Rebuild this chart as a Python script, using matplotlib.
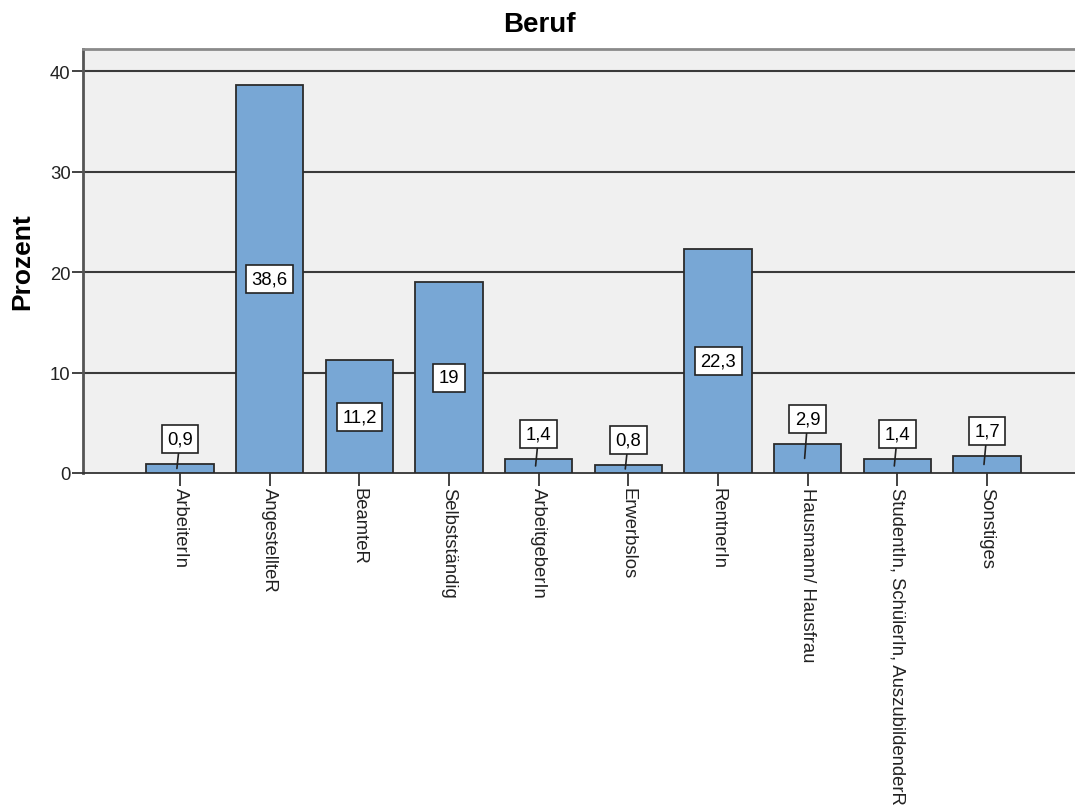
import numpy as np
import matplotlib
matplotlib.use("Agg")
import matplotlib.pyplot as plt

plt.rcParams['font.family'] = ['Liberation Sans', 'DejaVu Sans']

# data
categories = ["ArbeiterIn", "AngestellteR", "BeamteR", "Selbstständig", "ArbeitgeberIn",
              "Erwerbslos", "RentnerIn", "Hausmann/ Hausfrau",
              "StudentIn, SchülerIn, AuszubildenderR", "Sonstiges"]
prozent = [0.9, 38.6, 11.2, 19, 1.4, 0.8, 22.3, 2.9, 1.4, 1.7]
value_labels = ["0,9", "38,6", "11,2", "19", "1,4", "0,8", "22,3", "2,9", "1,4", "1,7"]
yticks = [0, 10, 20, 30, 40]

fig = plt.figure(figsize=(10.75, 8.12), dpi=100)
ax = fig.add_axes([83/1075, 1 - 474/812, 1 - 83/1075, (474 - 50)/812])
ax.set_facecolor("#F0F0F0")

x = np.arange(len(categories))
ax.bar(x, prozent, width=0.75, color="#78A7D5", edgecolor="#2b2b2b", linewidth=1.3, zorder=3)

# grid lines behind the bars
for t in yticks[1:]:
    ax.axhline(t, color="#3a3a3a", linewidth=1.5, zorder=1)

ax.set_xlim(-1.082, 9.98)
ax.set_ylim(0, 42.2)
ax.set_yticks(yticks)
ax.set_xticks(x)
ax.set_xticklabels(categories, rotation=270, ha="center", va="top", fontsize=13.3)
ax.tick_params(axis="y", length=8, width=1.2, pad=1, labelsize=13.3, colors="#222222")
ax.tick_params(axis="x", length=9, width=1.2, pad=1, colors="#222222")

ax.spines["right"].set_visible(False)
ax.spines["top"].set_color("#8a8a8a")
ax.spines["top"].set_linewidth(2)
ax.spines["left"].set_color("#555555")
ax.spines["left"].set_linewidth(2)
ax.spines["bottom"].set_color("#333333")
ax.spines["bottom"].set_linewidth(1.3)

# value labels in boxes
box = dict(boxstyle="square,pad=0.3", fc="white", ec="#222222", lw=1.2)
for i, (v, lab) in enumerate(zip(prozent, value_labels)):
    if v >= 5:
        ax.text(i, v / 2, lab, ha="center", va="center", fontsize=13.3, bbox=box, zorder=5)
    else:
        ax.annotate(lab, xy=(i - 0.035, v / 2), xytext=(i, v + 2.5),
                    ha="center", va="center", fontsize=13.3, bbox=box, zorder=5,
                    arrowprops=dict(arrowstyle="-", color="#222222", lw=1.2,
                                    shrinkA=0, shrinkB=0))

fig.text(539/1075, 1 - 25/812, "Beruf", ha="center", va="center",
         fontsize=20, fontweight="bold")
fig.text(22/1075, 1 - 262/812, "Prozent", ha="center", va="center",
         rotation=90, fontsize=19, fontweight="bold")

fig.savefig("out.png", dpi=100)
